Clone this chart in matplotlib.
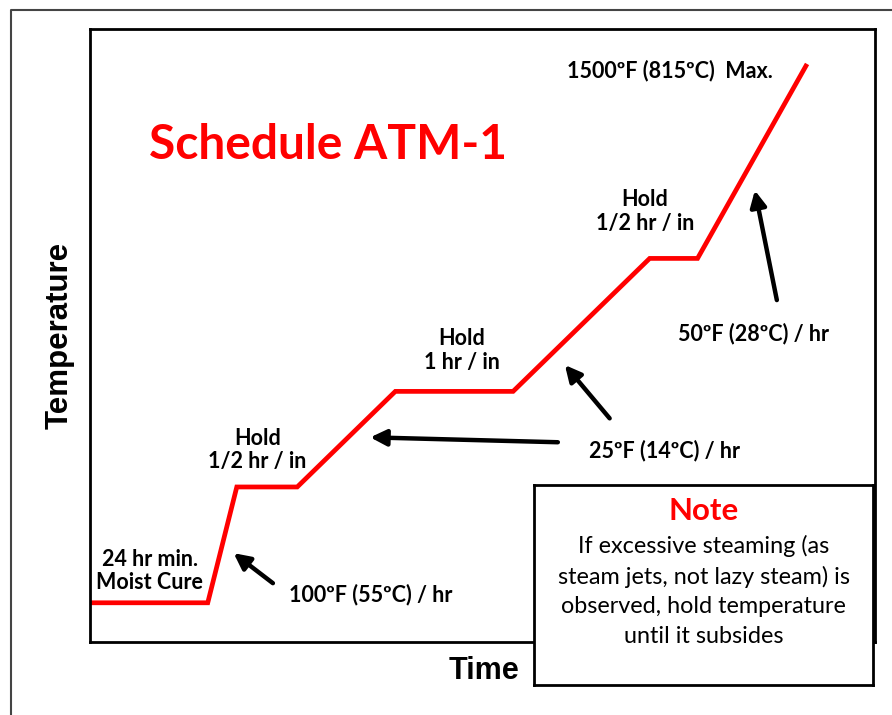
import matplotlib.pyplot as plt
from matplotlib.lines import Line2D

# Firing schedule (arbitrary time / temperature units, axes go 0-100)
time = [0, 15.0, 18.7, 26.4, 38.9, 53.9, 71.3, 77.4, 91.2]
temp = [6.4, 6.4, 25.3, 25.3, 40.9, 40.9, 62.6, 62.6, 94.0]

# labels: (text, x, y)
labels = [
    ("1500ºF (815ºC)  Max.", 73.9, 93.3),
    ("Hold\n1/2 hr / in", 70.7, 70.3),
    ("Hold\n1 hr / in", 47.4, 47.6),
    ("Hold\n1/2 hr / in", 21.3, 31.3),
    ("24 hr min.\nMoist Cure", 7.6, 11.6),
    ("100ºF (55ºC) / hr", 35.7, 7.8),
    ("25ºF (14ºC) / hr", 73.2, 31.3),
    ("50ºF (28ºC) / hr", 84.5, 50.4),
]

# arrows: (tail, tip)
arrows = [
    ((23.3, 9.6), (18.3, 14.5)),
    ((59.6, 32.6), (35.7, 33.4)),
    ((66.2, 36.5), (60.5, 45.2)),
    ((87.5, 55.8), (84.7, 73.7)),
]

note_lines = ["If excessive steaming (as", "steam jets, not lazy steam) is",
              "observed, hold temperature", "until it subsides"]

fig = plt.figure(figsize=(8.92, 7.15), dpi=100)

# outer frame (only top and left edges show)
fig.add_artist(Line2D([0.0123, 0.0123, 1.0], [0.0, 0.986, 0.986],
                      color='#444444', lw=1.5))

ax = fig.add_axes([0.1009, 0.1021, 0.880, 0.857])
ax.set_xlim(0, 100)
ax.set_ylim(0, 100)
ax.set_xticks([])
ax.set_yticks([])
for s in ax.spines.values():
    s.set_linewidth(2)

ax.plot(time, temp, color='#ff0000', lw=3.4, solid_joinstyle='miter')

ax.text(30.3, 81.1, "Schedule ATM-1", color='#ff0000', fontsize=34.5,
        fontweight='bold', family='Lato', ha='center', va='center')

for txt, x, y in labels:
    ax.text(x, y, txt, fontsize=15.5, fontweight='bold', family='Lato',
            ha='center', va='center', linespacing=1.15)

for tail, tip in arrows:
    ax.annotate("", xy=tip, xytext=tail,
                arrowprops=dict(arrowstyle='-|>', color='black', lw=3.2,
                                mutation_scale=24, shrinkA=0, shrinkB=0))

fig.text(0.0673, 0.531, "Temperature", rotation=90, fontsize=22.5,
         fontweight='bold', family='Liberation Sans', ha='center', va='center')
fig.text(0.5426, 0.0615, "Time", fontsize=22, fontweight='bold',
         family='Liberation Sans', ha='center', va='center')

# note box
nax = fig.add_axes([0.599, 0.042, 0.380, 0.280])
nax.set_xticks([])
nax.set_yticks([])
nax.set_facecolor('white')
for s in nax.spines.values():
    s.set_linewidth(2)
nax.text(0.5, 0.87, "Note", color='#ff0000', fontsize=22.5, fontweight='bold',
         family='Lato', ha='center', va='center', transform=nax.transAxes)
nax.text(0.5, 0.47, "\n".join(note_lines), fontsize=16.8, family='Lato',
         ha='center', va='center', linespacing=1.5, transform=nax.transAxes)

fig.savefig("out.png", dpi=100)
